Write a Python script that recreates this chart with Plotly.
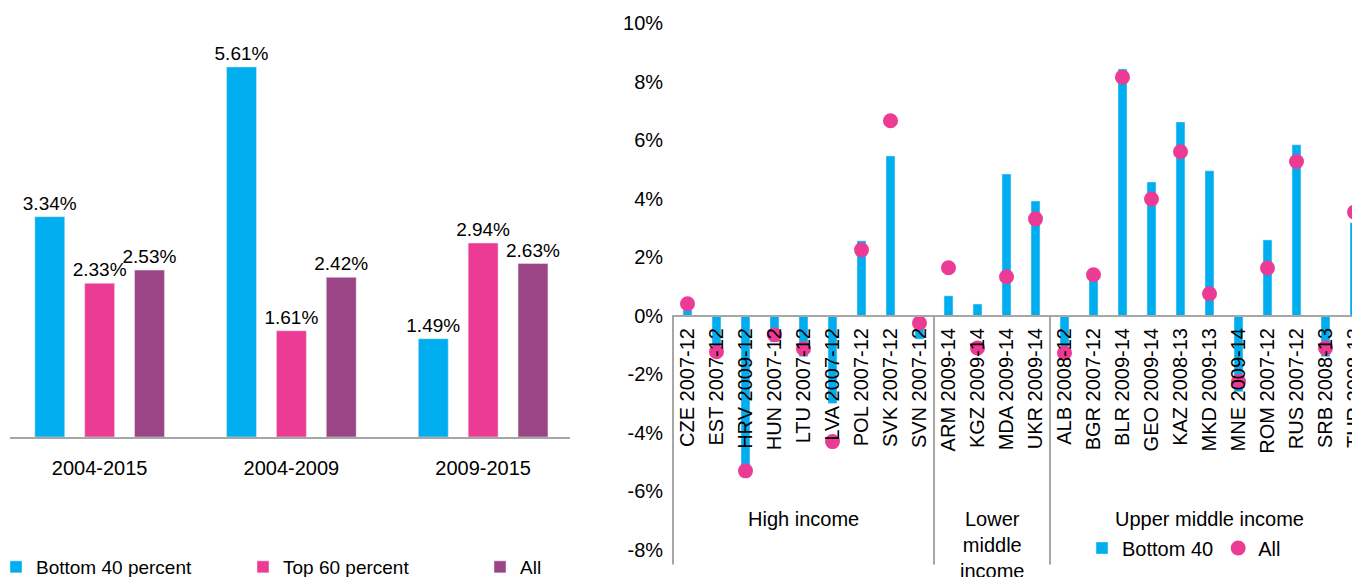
import plotly.graph_objects as go

# ---- dados: painel esquerdo ----
periodos = ['2004-2015', '2004-2009', '2009-2015']
bottom40_pct = [3.34, 5.61, 1.49]
top60_pct = [2.33, 1.61, 2.94]
all_pct = [2.53, 2.42, 2.63]

# ---- dados: painel direito ----
paises = ['CZE 2007-12', 'EST 2007-12', 'HRV 2009-12', 'HUN 2007-12', 'LTU 2007-12',
          'LVA 2007-12', 'POL 2007-12', 'SVK 2007-12', 'SVN 2007-12', 'ARM 2009-14',
          'KGZ 2009-14', 'MDA 2009-14', 'UKR 2009-14', 'ALB 2008-12', 'BGR 2007-12',
          'BLR 2009-14', 'GEO 2009-14', 'KAZ 2008-13', 'MKD 2009-13', 'MNE 2009-14',
          'ROM 2007-12', 'RUS 2007-12', 'SRB 2008-13', 'TUR 2008-13']
b40_paises = [0.2, -1.0, -5.2, -0.9, -1.4, -3.0, 2.56, 5.46, -0.8, 0.68, 0.4, 4.84,
              3.92, -1.05, 1.23, 8.43, 4.57, 6.62, 4.95, -2.6, 2.59, 5.84, -1.4, 3.18]
all_paises = [0.41, -1.23, -5.3, -0.65, -1.13, -4.3, 2.25, 6.66, -0.25, 1.64, -1.1, 1.33,
              3.31, -1.27, 1.4, 8.15, 3.99, 5.6, 0.75, -2.25, 1.63, 5.27, -1.1, 3.54]
grupos = ['High income', 'Lower<br>middle<br>income', 'Upper middle income']
grupo_inicio = [0, 9, 13]
grupo_fim = [8, 12, 23]
yticks = [-8, -6, -4, -2, 0, 2, 4, 6, 8, 10]

CORES = {
    'azul': '#00AEEF',
    'rosa': '#EC3B94',
    'roxo': '#9B4486',
    'cinza': '#A6A6A6',
    'texto': '#000000',
}
FONTE = 'Arial, Liberation Sans, sans-serif'
# a pagina tem 8px de margem no body
OFF = 8
W, H = 1360 - OFF, 577 - OFF


def px_x(p):
    return (p - OFF) / W


def px_y(p):
    return 1 - (p - OFF) / H


fig = go.Figure()

# painel esquerdo, cada serie com a sua legenda (espacamento irregular no original)
series_esq = [('Bottom 40 percent', bottom40_pct, CORES['azul'], 'legend'),
              ('Top 60 percent', top60_pct, CORES['rosa'], 'legend3'),
              ('All', all_pct, CORES['roxo'], 'legend4')]
for nome, vals, cor, leg in series_esq:
    fig.add_trace(go.Bar(
        x=periodos, y=vals, name=nome, marker_color=cor,
        text=[f'{v:.2f}%' for v in vals], textposition='outside',
        textfont=dict(size=19, color=CORES['texto']), cliponaxis=False,
        constraintext='none', xaxis='x', yaxis='y', legend=leg
    ))

# painel direito
fig.add_trace(go.Bar(
    x=paises, y=b40_paises, name='Bottom 40', marker_color=CORES['azul'],
    width=0.31, xaxis='x2', yaxis='y2', legend='legend2'
))
fig.add_trace(go.Scatter(
    x=paises, y=all_paises, name='All', mode='markers',
    marker=dict(size=15, color=CORES['rosa']),
    xaxis='x2', yaxis='y2', legend='legend2'
))

# separadores dos grupos de renda
for i in grupo_inicio:
    fig.add_shape(type='line', xref='x2', yref='y2', x0=i - 0.5, x1=i - 0.5, y0=0, y1=-8.5,
                  line=dict(color=CORES['cinza'], width=2))

for nome, a, b in zip(grupos, grupo_inicio, grupo_fim):
    fig.add_annotation(x=(a + b) / 2, y=-6.5, xref='x2', yref='y2', text=nome,
                       showarrow=False, yanchor='top',
                       font=dict(size=20, color=CORES['texto']))

x2_range = [-0.53, 23.19]
larg2 = (x2_range[1] - x2_range[0]) * 29

leg_base = dict(orientation='h', yanchor='middle', xanchor='left',
                font=dict(size=19), bgcolor='rgba(0,0,0,0)')

fig.update_layout(
    width=W, height=H,
    margin=dict(l=0, r=0, t=0, b=0, autoexpand=False),
    paper_bgcolor='white', plot_bgcolor='white',
    font=dict(family=FONTE, size=20, color=CORES['texto']),
    showlegend=True,
    barmode='group', bargap=0.22, bargroupgap=0.40,
    xaxis=dict(domain=[px_x(10), px_x(570)], range=[-0.4675, 2.453],
               showline=True, linecolor=CORES['cinza'], linewidth=2,
               ticks='', showgrid=False, ticklabelstandoff=12, anchor='y',
               automargin=False),
    yaxis=dict(domain=[px_y(437), px_y(30)], range=[0, 6.17],
               visible=False, anchor='x', automargin=False),
    xaxis2=dict(domain=[px_x(1360 - larg2), 1], range=x2_range,
                anchor='free', position=px_y(316),
                showline=True, linecolor=CORES['cinza'], linewidth=2,
                ticks='', tickangle=-90, showgrid=False, ticklabelstandoff=3,
                automargin=False),
    yaxis2=dict(domain=[px_y(566), px_y(23)], range=[-8.55, 10],
                tickvals=yticks, ticktext=[f'{v}%' for v in yticks],
                showgrid=False, zeroline=False, showline=False, ticks='',
                ticklabelstandoff=8, anchor='x2', automargin=False),
    legend=dict(x=px_x(-4), y=px_y(567), **leg_base),
    legend3=dict(x=px_x(243), y=px_y(567), **leg_base),
    legend4=dict(x=px_x(480), y=px_y(567), **leg_base),
    legend2=dict(x=px_x(1082), y=px_y(548), orientation='h', yanchor='middle',
                 xanchor='left', font=dict(size=20), bgcolor='rgba(0,0,0,0)'),
)

fig.write_html('out.html')
